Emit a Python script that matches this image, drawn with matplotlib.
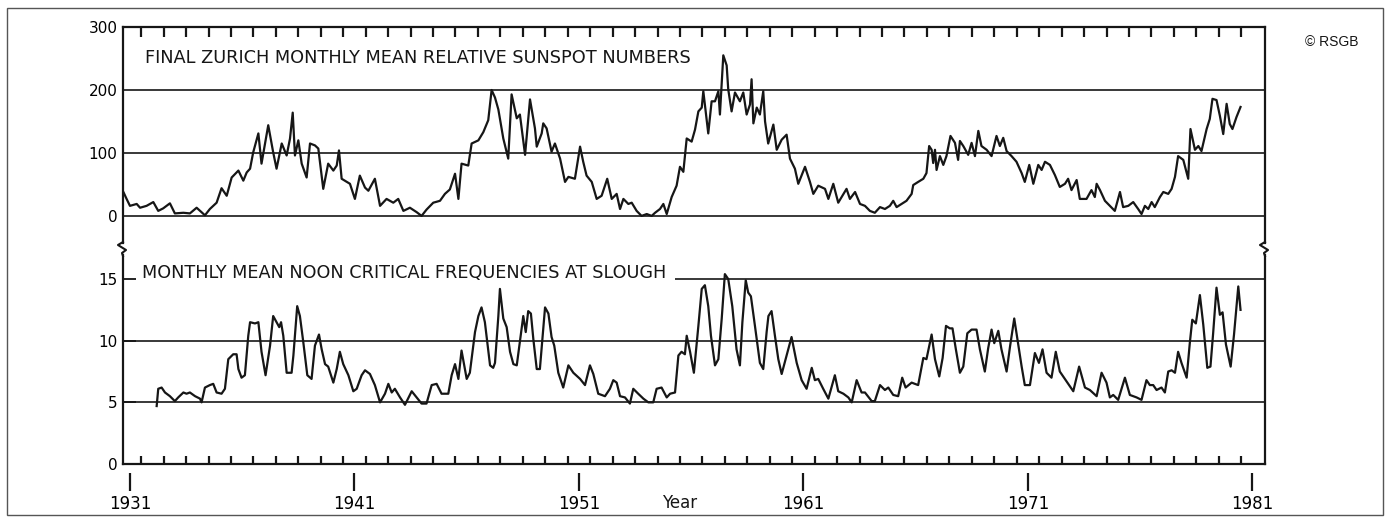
import matplotlib
matplotlib.use("Agg")
import matplotlib.pyplot as plt
from matplotlib.lines import Line2D
from matplotlib.patches import Rectangle

# === Data ===
sun_years = [
    1930.72, 1930.85, 1931.00, 1931.30, 1931.45, 1931.74, 1932.04, 1932.26, 1932.48, 1932.78,
    1933.00, 1933.38, 1933.67, 1933.97, 1934.34, 1934.56, 1934.86, 1935.08, 1935.31, 1935.53,
    1935.83, 1936.05, 1936.20, 1936.35, 1936.49, 1936.72, 1936.86, 1937.16, 1937.38, 1937.53,
    1937.76, 1937.98, 1938.13, 1938.25, 1938.35, 1938.50, 1938.65, 1938.87, 1939.02, 1939.24,
    1939.39, 1939.61, 1939.83, 1940.06, 1940.21, 1940.31, 1940.43, 1940.80, 1941.02, 1941.24,
    1941.47, 1941.62, 1941.91, 1942.14, 1942.43, 1942.73, 1942.95, 1943.18, 1943.47, 1943.77,
    1943.99, 1944.21, 1944.51, 1944.81, 1945.03, 1945.25, 1945.48, 1945.63, 1945.77, 1946.07,
    1946.22, 1946.52, 1946.74, 1946.96, 1947.11, 1947.26, 1947.41, 1947.63, 1947.85, 1948.00,
    1948.23, 1948.37, 1948.60, 1948.82, 1949.04, 1949.12, 1949.34, 1949.41, 1949.56, 1949.78,
    1949.93, 1950.16, 1950.38, 1950.53, 1950.82, 1951.05, 1951.19, 1951.34, 1951.57, 1951.79,
    1952.01, 1952.26, 1952.46, 1952.68, 1952.83, 1952.98, 1953.20, 1953.35, 1953.57, 1953.79,
    1954.02, 1954.24, 1954.39, 1954.61, 1954.76, 1954.91, 1955.13, 1955.35, 1955.50, 1955.65,
    1955.80, 1956.02, 1956.17, 1956.32, 1956.47, 1956.54, 1956.76, 1956.91, 1957.06, 1957.21,
    1957.28, 1957.43, 1957.58, 1957.65, 1957.80, 1957.95, 1958.17, 1958.32, 1958.47, 1958.62,
    1958.69, 1958.77, 1958.92, 1959.06, 1959.21, 1959.29, 1959.43, 1959.66, 1959.81, 1960.03,
    1960.25, 1960.40, 1960.62, 1960.77, 1961.07, 1961.29, 1961.44, 1961.66, 1961.96, 1962.11,
    1962.33, 1962.55, 1962.92, 1963.07, 1963.30, 1963.52, 1963.74, 1963.96, 1964.18, 1964.41,
    1964.63, 1964.85, 1965.00, 1965.15, 1965.37, 1965.59, 1965.82, 1965.89, 1966.11, 1966.34,
    1966.48, 1966.60, 1966.71, 1966.78, 1966.86, 1966.93, 1967.08, 1967.23, 1967.37, 1967.55,
    1967.75, 1967.89, 1967.97, 1968.12, 1968.34, 1968.49, 1968.64, 1968.79, 1968.93, 1969.16,
    1969.38, 1969.60, 1969.75, 1969.90, 1970.05, 1970.27, 1970.49, 1970.72, 1970.86, 1971.06,
    1971.24, 1971.46, 1971.61, 1971.76, 1971.98, 1972.20, 1972.42, 1972.65, 1972.79, 1972.94,
    1973.17, 1973.31, 1973.61, 1973.83, 1973.98, 1974.06, 1974.21, 1974.43, 1974.65, 1974.87,
    1975.10, 1975.24, 1975.47, 1975.69, 1975.91, 1976.06, 1976.21, 1976.36, 1976.51, 1976.65,
    1976.88, 1977.03, 1977.25, 1977.40, 1977.55, 1977.69, 1977.92, 1978.14, 1978.24, 1978.44,
    1978.59, 1978.73, 1978.96, 1979.10, 1979.22, 1979.40, 1979.55, 1979.70, 1979.85, 1979.99,
    1980.11, 1980.29, 1980.47,
]
sunspots = [
    37, 27, 16, 19, 13, 16, 22, 8, 12, 20,
    4, 5, 4, 13, 1, 11, 21, 44, 32, 61,
    72, 56, 69, 75, 101, 131, 83, 144, 101, 75,
    115, 96, 123, 164, 96, 120, 83, 61, 115, 112,
    107, 43, 83, 72, 80, 104, 59, 51, 27, 64,
    45, 40, 59, 16, 27, 21, 27, 8, 13, 6,
    0, 10, 21, 24, 35, 42, 67, 27, 83, 80,
    115, 120, 133, 152, 200, 188, 169, 123, 91, 193,
    155, 161, 97, 185, 139, 110, 131, 147, 139, 102,
    115, 91, 54, 62, 59, 110, 86, 64, 54, 27,
    32, 59, 27, 35, 11, 27, 19, 21, 8, 0,
    3, 0, 5, 11, 19, 3, 30, 48, 78, 70,
    123, 118, 137, 166, 172, 198, 131, 182, 182, 198,
    161, 255, 239, 201, 166, 196, 182, 196, 161, 177,
    217, 147, 172, 161, 198, 150, 115, 145, 105, 121,
    129, 91, 75, 51, 78, 54, 35, 48, 43, 27,
    51, 21, 43, 27, 38, 19, 16, 8, 5, 14,
    11, 16, 24, 14, 19, 24, 35, 49, 54, 59,
    68, 111, 105, 84, 105, 73, 95, 81, 95, 127,
    116, 89, 119, 111, 97, 116, 95, 135, 111, 105,
    95, 127, 111, 124, 103, 95, 86, 68, 54, 81,
    51, 81, 73, 86, 81, 65, 46, 51, 59, 41,
    57, 27, 27, 41, 30, 51, 41, 24, 16, 8,
    38, 14, 16, 22, 11, 3, 16, 11, 22, 14,
    30, 38, 35, 43, 62, 95, 89, 59, 138, 105,
    111, 103, 138, 154, 186, 184, 159, 130, 178, 146,
    138, 157, 173,
]

fo_years = [
    1932.19, 1932.26, 1932.41, 1932.56, 1932.78, 1933.00, 1933.15, 1933.38, 1933.52, 1933.67,
    1933.90, 1934.12, 1934.19, 1934.34, 1934.56, 1934.71, 1934.86, 1935.08, 1935.23, 1935.38,
    1935.60, 1935.75, 1935.83, 1935.97, 1936.12, 1936.27, 1936.35, 1936.57, 1936.72, 1936.86,
    1937.04, 1937.24, 1937.38, 1937.53, 1937.65, 1937.73, 1937.83, 1937.98, 1938.20, 1938.28,
    1938.45, 1938.57, 1938.72, 1938.90, 1939.09, 1939.24, 1939.42, 1939.54, 1939.69, 1939.83,
    1940.06, 1940.21, 1940.35, 1940.50, 1940.73, 1940.95, 1941.10, 1941.32, 1941.47, 1941.69,
    1941.91, 1942.14, 1942.36, 1942.51, 1942.66, 1942.80, 1943.03, 1943.25, 1943.55, 1943.77,
    1943.99, 1944.21, 1944.44, 1944.66, 1944.88, 1945.18, 1945.33, 1945.48, 1945.63, 1945.77,
    1946.00, 1946.14, 1946.37, 1946.52, 1946.66, 1946.81, 1947.04, 1947.18, 1947.26, 1947.41,
    1947.48, 1947.63, 1947.78, 1947.93, 1948.08, 1948.23, 1948.37, 1948.52, 1948.63, 1948.74,
    1948.86, 1948.97, 1949.12, 1949.26, 1949.41, 1949.49, 1949.64, 1949.78, 1949.90, 1950.08,
    1950.30, 1950.53, 1950.75, 1951.05, 1951.27, 1951.49, 1951.64, 1951.86, 1952.16, 1952.38,
    1952.53, 1952.68, 1952.83, 1953.05, 1953.27, 1953.42, 1953.64, 1953.87, 1954.09, 1954.31,
    1954.46, 1954.68, 1954.91, 1955.06, 1955.28, 1955.43, 1955.57, 1955.72, 1955.80, 1955.95,
    1956.12, 1956.32, 1956.47, 1956.61, 1956.76, 1956.88, 1957.06, 1957.21, 1957.36, 1957.50,
    1957.65, 1957.83, 1958.02, 1958.17, 1958.28, 1958.43, 1958.54, 1958.66, 1958.84, 1959.06,
    1959.21, 1959.36, 1959.44, 1959.58, 1959.73, 1959.88, 1960.03, 1960.25, 1960.47, 1960.70,
    1960.92, 1961.14, 1961.37, 1961.51, 1961.66, 1961.88, 1962.11, 1962.40, 1962.55, 1962.78,
    1963.00, 1963.15, 1963.37, 1963.59, 1963.74, 1964.04, 1964.18, 1964.41, 1964.63, 1964.78,
    1965.00, 1965.22, 1965.40, 1965.55, 1965.82, 1966.11, 1966.34, 1966.48, 1966.71, 1966.86,
    1967.05, 1967.20, 1967.35, 1967.52, 1967.64, 1967.79, 1967.97, 1968.12, 1968.30, 1968.49,
    1968.71, 1968.86, 1969.08, 1969.23, 1969.38, 1969.50, 1969.68, 1969.82, 1970.05, 1970.20,
    1970.39, 1970.57, 1970.72, 1970.86, 1971.09, 1971.31, 1971.49, 1971.65, 1971.83, 1972.05,
    1972.24, 1972.42, 1972.72, 1973.02, 1973.28, 1973.54, 1973.76, 1974.06, 1974.28, 1974.50,
    1974.65, 1974.80, 1975.02, 1975.32, 1975.54, 1975.84, 1976.06, 1976.28, 1976.43, 1976.58,
    1976.73, 1976.95, 1977.10, 1977.25, 1977.40, 1977.55, 1977.69, 1977.84, 1978.07, 1978.21,
    1978.32, 1978.48, 1978.66, 1978.81, 1978.99, 1979.13, 1979.25, 1979.40, 1979.55, 1979.67,
    1979.82, 1980.03, 1980.18, 1980.37, 1980.47,
]
fo_mhz = [
    4.7, 6.1, 6.2, 5.8, 5.5, 5.1, 5.4, 5.8, 5.7, 5.8,
    5.5, 5.3, 5.0, 6.2, 6.4, 6.5, 5.8, 5.7, 6.1, 8.5,
    8.9, 8.9, 7.7, 7.0, 7.2, 10.4, 11.5, 11.4, 11.5, 9.1,
    7.2, 9.6, 12.0, 11.5, 11.1, 11.5, 10.4, 7.4, 7.4, 8.8,
    12.8, 12.0, 9.9, 7.2, 6.9, 9.6, 10.5, 9.3, 8.1, 7.9,
    6.6, 7.7, 9.1, 8.1, 7.2, 5.9, 6.1, 7.2, 7.6, 7.3,
    6.4, 5.0, 5.7, 6.5, 5.8, 6.1, 5.4, 4.8, 5.9, 5.4,
    4.9, 4.9, 6.4, 6.5, 5.7, 5.7, 7.2, 8.1, 6.9, 9.2,
    6.9, 7.4, 10.7, 12.0, 12.7, 11.5, 8.0, 7.8, 8.2, 12.0,
    14.2, 11.8, 11.1, 9.1, 8.1, 8.0, 9.9, 12.0, 10.7, 12.4,
    12.2, 10.1, 7.7, 7.7, 10.9, 12.7, 12.2, 10.3, 9.6, 7.4,
    6.2, 8.0, 7.4, 6.9, 6.4, 8.0, 7.3, 5.7, 5.5, 6.1,
    6.8, 6.6, 5.5, 5.4, 4.9, 6.1, 5.7, 5.3, 5.0, 5.0,
    6.1, 6.2, 5.4, 5.7, 5.8, 8.8, 9.1, 8.9, 10.4, 9.1,
    7.4, 11.2, 14.2, 14.5, 12.8, 10.4, 8.0, 8.5, 11.8, 15.4,
    15.0, 12.8, 9.3, 8.0, 11.5, 14.9, 13.9, 13.6, 11.2, 8.2,
    7.7, 10.7, 12.0, 12.4, 10.4, 8.5, 7.3, 8.8, 10.3, 8.2,
    6.8, 6.1, 7.8, 6.8, 6.9, 6.1, 5.3, 7.2, 5.9, 5.7,
    5.4, 5.0, 6.8, 5.8, 5.8, 5.1, 5.1, 6.4, 6.0, 6.2,
    5.6, 5.5, 7.0, 6.2, 6.6, 6.4, 8.6, 8.5, 10.5, 8.5,
    7.1, 8.6, 11.2, 11.0, 11.0, 9.3, 7.4, 7.9, 10.6, 10.9,
    10.9, 9.3, 7.5, 9.4, 10.9, 9.8, 10.8, 9.3, 7.5, 9.5,
    11.8, 9.7, 7.9, 6.4, 6.4, 9.0, 8.2, 9.3, 7.4, 7.0,
    9.1, 7.5, 6.7, 5.9, 7.9, 6.2, 6.0, 5.5, 7.4, 6.6,
    5.4, 5.6, 5.2, 7.0, 5.6, 5.4, 5.2, 6.8, 6.4, 6.4,
    6.0, 6.2, 5.8, 7.5, 7.6, 7.4, 9.1, 8.2, 7.0, 9.8,
    11.7, 11.4, 13.7, 11.3, 7.8, 7.9, 10.6, 14.3, 12.1, 12.3,
    9.7, 7.9, 10.5, 14.4, 12.5,
]

sun_ticks = [0, 100, 200, 300]
fo_ticks = [0, 5, 10, 15]
decades = [1931, 1941, 1951, 1961, 1971, 1981]
year_ticks = [y + 0.5 for y in range(1931, 1981)]

INK = '#161616'
plt.rcParams['font.family'] = ['DejaVu Sans']

fig = plt.figure(figsize=(13.9, 5.2), dpi=100)

def px(x, y):
    return x / 1390, 1 - y / 520

# outer frame of the scanned figure
fig.add_artist(Rectangle(px(7, 515), 1376 / 1390, 507 / 520, transform=fig.transFigure,
                         fill=False, ec='#555555', lw=1.0))

left, width = 123 / 1390, 1142 / 1390
ax1 = fig.add_axes([left, 1 - 243 / 520, width, 216 / 520])
ax2 = fig.add_axes([left, 1 - 464 / 520, width, 209 / 520])
xlim = (1930.69, 1981.56)

# --- top: sunspot numbers ---
ax1.plot(sun_years, sunspots, color=INK, lw=1.6, solid_joinstyle='round')
ax1.set_xlim(*xlim)
ax1.set_ylim(-43, 300)
for v in sun_ticks[:-1]:
    ax1.axhline(v, color=INK, lw=1.2)
ax1.spines['bottom'].set_visible(False)
ax1.set_yticks(sun_ticks)
ax1.tick_params(axis='y', length=0, pad=4, labelsize=11)
ax1.set_xticks(year_ticks)
ax1.tick_params(axis='x', top=True, bottom=False, labelbottom=False, direction='in',
                length=7, width=1.6, color=INK)
ax1.text(0.019, 0.856, 'FINAL ZURICH MONTHLY MEAN RELATIVE SUNSPOT NUMBERS',
         transform=ax1.transAxes, va='center', ha='left', fontsize=12.8, color=INK)

# --- bottom: critical frequencies ---
ax2.plot(fo_years, fo_mhz, color=INK, lw=1.6, solid_joinstyle='round')
ax2.set_xlim(*xlim)
ax2.set_ylim(0, 16.95)
for v in fo_ticks[1:3]:
    ax2.axhline(v, color=INK, lw=1.2)
ax2.hlines(15, 1955.3, xlim[1], color=INK, lw=1.2)
ax2.spines['top'].set_visible(False)
ax2.set_yticks(fo_ticks)
ax2.tick_params(axis='y', direction='in', length=9, width=1.2, pad=4, labelsize=11)
ax2.set_xticks(year_ticks)
ax2.tick_params(axis='x', direction='in', length=6, width=1.6, color=INK, labelbottom=False)
ax2.text(0.017, 0.914, 'MONTHLY MEAN NOON CRITICAL FREQUENCIES AT SLOUGH',
         transform=ax2.transAxes, va='center', ha='left', fontsize=12.7, color=INK)

sec = ax2.secondary_xaxis(-0.043)
sec.set_xticks(decades)
sec.set_xticklabels([str(d) for d in decades])
sec.spines['bottom'].set_visible(False)
sec.tick_params(direction='out', length=13, width=1.6, pad=3, labelsize=12, color=INK)

for ax in (ax1, ax2):
    for s in ax.spines.values():
        s.set_linewidth(1.6)
        s.set_color(INK)

# axis break zigzags between the two panels
for xs in (123, 1265):
    pts = [(xs, 242), (xs - 5, 245), (xs + 3, 250), (xs - 1, 253), (xs, 256)]
    fig.add_artist(Line2D([px(*p)[0] for p in pts], [px(*p)[1] for p in pts],
                          transform=fig.transFigure, color=INK, lw=1.5))

fig.text(*px(680, 503), 'Year', ha='center', va='center', fontsize=12, color=INK)
fig.text(*px(1305, 42), '\u00a9 RSGB', ha='left', va='center', fontsize=10,
         family='Liberation Sans', color=INK)

fig.savefig('out.png', dpi=100)
